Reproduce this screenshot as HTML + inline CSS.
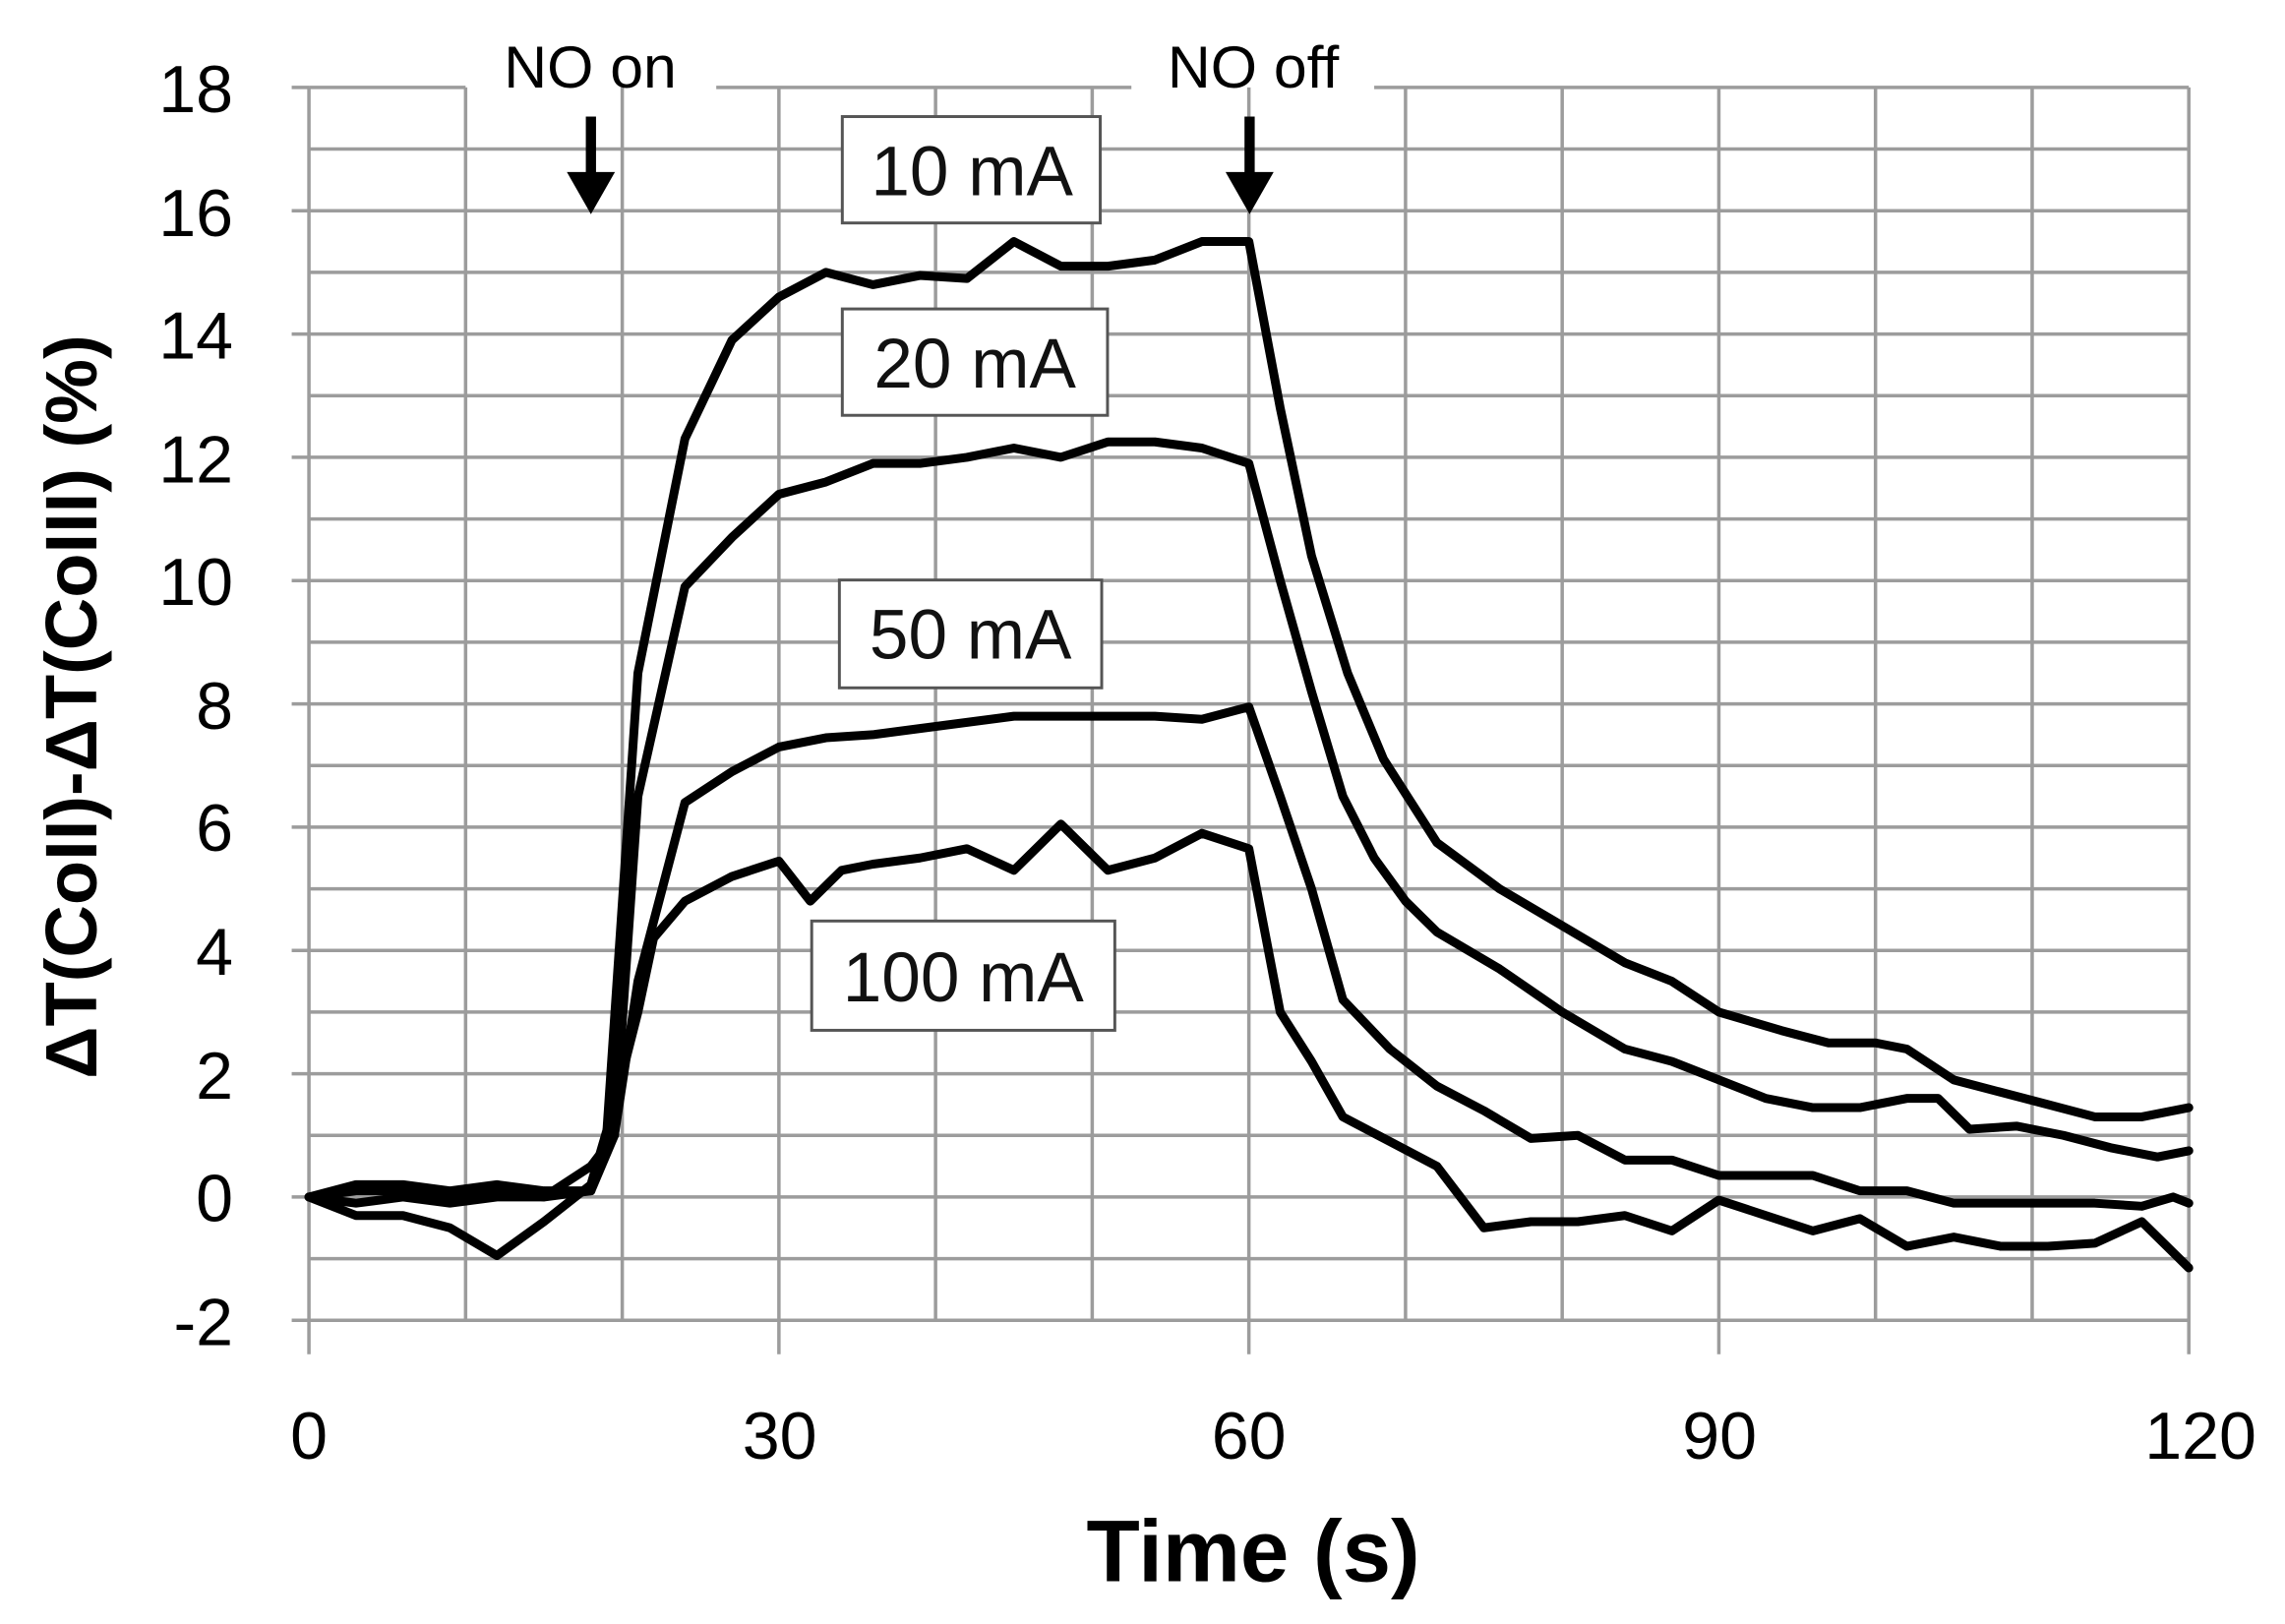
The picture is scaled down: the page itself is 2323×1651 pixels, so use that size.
<!DOCTYPE html>
<html><head><meta charset="utf-8"><style>
html,body{margin:0;padding:0;background:#fff;}
svg{display:block;}
text{font-family:"Liberation Sans",sans-serif;}
</style></head><body>
<svg width="2323" height="1651" viewBox="0 0 1568 1114.4" preserveAspectRatio="none" xmlns="http://www.w3.org/2000/svg">
<rect width="1568" height="1115" fill="#fff"/>
<g transform="translate(212,821.4) scale(10.75,-42.3)" fill="none" stroke="#9c9c9c" stroke-width="3.5">
  <path vector-effect="non-scaling-stroke" d="M0,-2H120M0,-1H120M0,0H120M0,1H120M0,2H120M0,3H120M0,4H120M0,5H120M0,6H120M0,7H120M0,8H120M0,9H120M0,10H120M0,11H120M0,12H120M0,13H120M0,14H120M0,15H120M0,16H120M0,17H120"/>
  <path vector-effect="non-scaling-stroke" d="M0,18H10M26,18H52.5M68,18H120"/>
  <path vector-effect="non-scaling-stroke" d="M-1.1,18H0M-1.1,16H0M-1.1,14H0M-1.1,12H0M-1.1,10H0M-1.1,8H0M-1.1,6H0M-1.1,4H0M-1.1,2H0M-1.1,0H0M-1.1,-2H0"/>
  <path vector-effect="non-scaling-stroke" d="M0,-2.55V18M10,-2V18M20,-2V18M30,-2.55V18M40,-2V18M50,-2V18M60,-2.55V18M70,-2V18M80,-2V18M90,-2.55V18M100,-2V18M110,-2V18M120,-2.55V18"/>
  <g stroke="#000" stroke-width="9" stroke-linejoin="round" stroke-linecap="round">
  <path vector-effect="non-scaling-stroke" d="M0,0 3,0.2 6,0.2 9,0.1 12,0.2 15,0.1 18,0.1 19,1 21,8.5 24,12.3 27,13.9 30,14.6 33,15 36,14.8 39,14.95 42,14.9 45,15.5 48,15.1 51,15.1 54,15.2 57,15.5 60,15.5 62,12.8 64,10.4 66.3,8.5 68.6,7.1 72,5.75 76,5 80,4.4 84,3.8 87,3.5 90,3 94,2.7 97,2.5 100,2.5 102,2.4 105,1.9 108,1.7 111,1.5 114,1.3 117,1.3 120,1.45"/>
  <path vector-effect="non-scaling-stroke" d="M0,0 3,0.1 6,0.1 9,0 12,0.1 15,0 18,0.1 19.5,1 21,6.5 24,9.9 27,10.7 30,11.4 33,11.6 36,11.9 39,11.9 42,12 45,12.15 48,12 51,12.25 54,12.25 57,12.15 60,11.9 62,10 64,8.2 66,6.5 68,5.5 70,4.8 72,4.3 76,3.7 80,3 84,2.4 87,2.2 90,1.9 93,1.6 96,1.45 99,1.45 102,1.6 104,1.6 106,1.1 109,1.15 112,1 115,0.8 118,0.65 120,0.75"/>
  <path vector-effect="non-scaling-stroke" d="M0,0 3,-0.1 6,0 9,-0.1 12,0 15,0 18,0.5 19.5,1 21,3.5 24,6.4 27,6.9 30,7.3 33,7.45 36,7.5 39,7.6 42,7.7 45,7.8 48,7.8 51,7.8 54,7.8 57,7.75 60,7.95 62,6.5 64,5 66,3.2 69,2.4 72,1.8 75,1.4 78,0.95 81,1 84,0.6 87,0.6 90,0.35 93,0.35 96,0.35 99,0.1 102,0.1 105,-0.1 108,-0.1 111,-0.1 114,-0.1 117,-0.15 119,0 120,-0.1"/>
  <path vector-effect="non-scaling-stroke" d="M0,0 3,-0.3 6,-0.3 9,-0.5 12,-0.95 15,-0.4 18,0.2 19.5,1.5 21,3 22,4.2 24,4.8 27,5.2 30,5.45 32,4.8 34,5.3 36,5.4 39,5.5 42,5.65 45,5.3 48,6.05 51,5.3 54,5.5 57,5.9 60,5.65 62,3 64,2.2 66,1.3 69,0.9 72,0.5 75,-0.5 78,-0.4 81,-0.4 84,-0.3 87,-0.55 90,-0.05 93,-0.3 96,-0.55 99,-0.35 102,-0.8 105,-0.65 108,-0.8 111,-0.8 114,-0.75 117,-0.4 120,-1.15"/>
  </g>
</g>
<g fill="#000">
  <rect x="402" y="80" width="7" height="42"/><polygon points="389,118 422,118 405.5,147"/>
  <rect x="854" y="80" width="7" height="42"/><polygon points="841,118 874,118 857.5,147"/>
</g>
<text x="405" y="60" font-size="41" text-anchor="middle">NO on</text>
<text x="860" y="60" font-size="41" text-anchor="middle">NO off</text>
<g fill="#fff" stroke="#555" stroke-width="2">
  <rect x="578" y="80" width="177" height="73"/>
  <rect x="578" y="212" width="182" height="73"/>
  <rect x="576" y="398" width="180" height="74"/>
  <rect x="557" y="632" width="208" height="75"/>
</g>
<g font-size="48" text-anchor="middle" fill="#111">
  <text x="667" y="134">10 mA</text>
  <text x="669" y="266">20 mA</text>
  <text x="666" y="452">50 mA</text>
  <text x="661" y="687">100 mA</text>
</g>
<g font-size="46" text-anchor="end">
  <text x="160" y="77">18</text><text x="160" y="162">16</text><text x="160" y="246">14</text>
  <text x="160" y="331">12</text><text x="160" y="415">10</text><text x="160" y="500">8</text>
  <text x="160" y="584">6</text><text x="160" y="669">4</text><text x="160" y="754">2</text>
  <text x="160" y="838">0</text><text x="160" y="923">-2</text>
</g>
<g font-size="46" text-anchor="middle">
  <text x="212" y="1001">0</text><text x="535" y="1001">30</text><text x="857" y="1001">60</text>
  <text x="1180" y="1001">90</text><text x="1510" y="1001">120</text>
</g>
<text x="860" y="1085" font-size="60" font-weight="bold" text-anchor="middle">Time (s)</text>
<text transform="translate(66,485) rotate(-90)" font-size="50" font-weight="bold" text-anchor="middle">ΔT(CoII)-ΔT(CoIII) (%)</text>
</svg>
</body></html>
